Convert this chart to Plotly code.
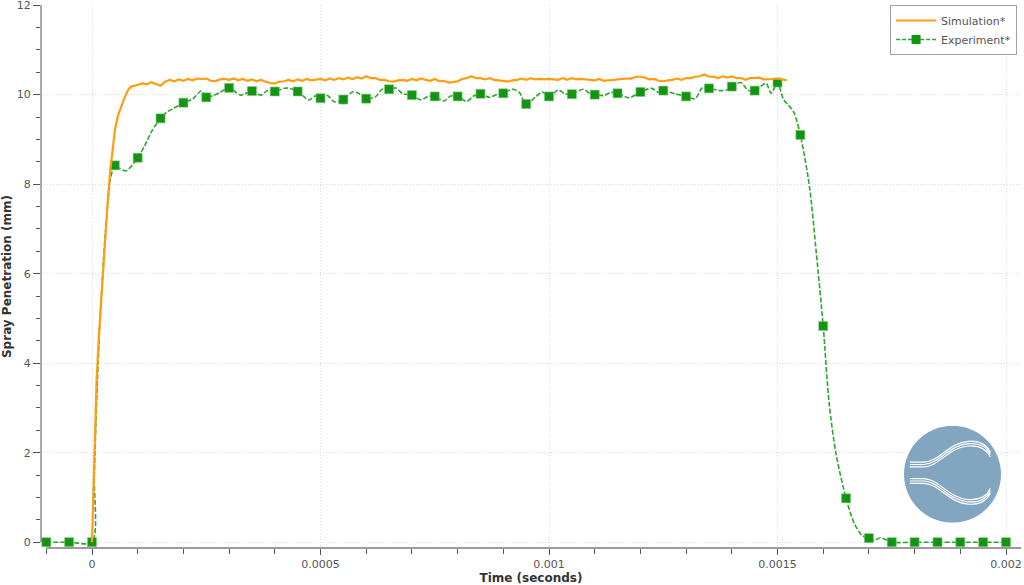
import base64
import numpy as np
import plotly.graph_objects as go

# ---------------- data ----------------
# Simulation: rise (seconds, mm)
sim_t_rise = [0, 2e-6, 5e-6, 1e-5, 1.5e-5, 2e-5, 2.5e-5, 3e-5, 3.5e-5, 4e-5, 4.5e-5,
              5e-5, 5.7e-5, 6.5e-5, 7.2e-5, 8e-5, 8.6e-5, 9.3e-5]
sim_y_rise = [0, 0.8, 2.2, 3.6, 4.6, 5.4, 6.2, 7.0, 7.7, 8.3, 8.8,
              9.2, 9.54, 9.78, 9.95, 10.12, 10.18, 10.20]
# Simulation: plateau sampled every 10 microseconds from 0.0001 s to 0.00152 s
sim_t_plateau = list(np.round(np.arange(100, 1521, 10) * 1e-6, 8))
sim_y_plateau = [
    10.22, 10.25, 10.23, 10.28, 10.24, 10.20, 10.29, 10.33, 10.30, 10.34,
    10.31, 10.35, 10.32, 10.36, 10.35, 10.36, 10.31, 10.30, 10.34, 10.35,
    10.33, 10.36, 10.32, 10.35, 10.31, 10.34, 10.30, 10.33, 10.29, 10.26,
    10.25, 10.29, 10.30, 10.33, 10.30, 10.34, 10.31, 10.35, 10.32, 10.33,
    10.35, 10.32, 10.36, 10.33, 10.37, 10.34, 10.38, 10.35, 10.39, 10.36,
    10.41, 10.37, 10.37, 10.33, 10.33, 10.30, 10.29, 10.32, 10.33, 10.31,
    10.35, 10.32, 10.36, 10.33, 10.31, 10.35, 10.30, 10.31, 10.27, 10.28,
    10.30, 10.35, 10.37, 10.41, 10.37, 10.37, 10.34, 10.37, 10.33, 10.32,
    10.30, 10.29, 10.32, 10.33, 10.36, 10.33, 10.37, 10.34, 10.35, 10.34,
    10.35, 10.34, 10.33, 10.37, 10.33, 10.37, 10.34, 10.35, 10.34, 10.34,
    10.32, 10.35, 10.31, 10.32, 10.33, 10.35, 10.35, 10.36, 10.36, 10.40,
    10.40, 10.38, 10.34, 10.35, 10.31, 10.30, 10.32, 10.33, 10.36, 10.33,
    10.37, 10.37, 10.40, 10.41, 10.45, 10.40, 10.40, 10.37, 10.41, 10.38,
    10.41, 10.37, 10.37, 10.33, 10.37, 10.37, 10.38, 10.34, 10.34, 10.35,
    10.36, 10.34, 10.32,
]

# Experiment: marked samples every 50 microseconds
exp_marker_t = list(np.round(np.arange(-100, 2001, 50) * 1e-6, 8))
exp_marker_y = [
    0, 0, 0,
    8.42, 8.59, 9.47, 9.82, 9.94, 10.15, 10.08, 10.07, 10.07, 9.92,
    9.89, 9.91, 10.12, 9.99, 9.96, 9.96, 10.02, 10.03, 9.79, 9.96,
    10.01, 10.00, 10.03, 10.06, 10.09, 9.96, 10.14, 10.18, 10.09, 10.27,
    9.10, 4.83, 0.98, 0.09, 0, 0, 0, 0, 0, 0,
]
# Experiment: unmarked samples between markers (microseconds, mm)
exp_mid_us = [5, 10, 15, 20, 25, 30, 35, 40, 60, 75, 90, 115, 130, 165, 180, 220, 239,
              265, 280, 325, 370, 385, 425, 475, 488, 515, 530, 570, 585, 620, 635,
              665, 680, 720, 735, 770, 785, 820, 835, 870, 885, 920, 935, 970, 985,
              1020, 1035, 1075, 1090, 1120, 1135, 1175, 1190, 1225, 1240, 1275,
              1320, 1335, 1375, 1390, 1420, 1435, 1475, 1486, 1513, 1535, 1570, 1585,
              1613, 1628, 1668, 1685, 1712, 1725]
exp_mid_y = [1.5, 3.1, 4.4, 5.4, 6.3, 7.0, 7.6, 8.1, 8.35, 8.30, 8.45, 8.85, 9.17, 9.62, 9.70, 9.90, 10.08,
             9.98, 10.05, 9.99, 9.99, 10.10, 10.15, 9.88, 9.97, 9.98, 9.84, 10.06, 10.02, 9.95, 10.12,
             10.15, 10.02, 9.88, 9.96, 9.86, 9.97, 9.85, 9.97, 9.94, 10.00, 10.12, 10.05, 9.94, 10.06,
             10.10, 10.02, 10.12, 10.02, 9.98, 10.05, 9.93, 10.00, 10.14, 10.05, 10.02,
             9.91, 10.15, 10.09, 10.11, 10.27, 10.10, 10.25, 10.03, 9.90, 9.62, 7.94, 6.45,
             3.10, 1.98, 0.42, 0.15, 0.04, 0.10]

x_tick_vals = [0, 0.0005, 0.001, 0.0015, 0.002]
x_tick_text = ["0", "0.0005", "0.001", "0.0015", "0.002"]
y_tick_vals = [0, 2, 4, 6, 8, 10, 12]

# ---------------- styling ----------------
ORANGE = "#ff9c0f"
GREEN_LINE = "#2fa52f"
GREEN_MARK = "#139413"
FONT = "DejaVu Sans"
GRID = "#d9d9d9"

sim_t = sim_t_rise + sim_t_plateau
sim_y = sim_y_rise + sim_y_plateau

pairs = sorted(list(zip(exp_marker_t, exp_marker_y)) +
               [(u * 1e-6, v) for u, v in zip(exp_mid_us, exp_mid_y)])
exp_t = [p[0] for p in pairs]
exp_y = [p[1] for p in pairs]

fig = go.Figure()
fig.add_trace(go.Scatter(
    x=exp_t, y=exp_y, mode="lines", showlegend=False, hoverinfo="skip",
    line=dict(color=GREEN_LINE, width=1.6, dash="5px,2px", shape="spline", smoothing=0.8),
))
fig.add_trace(go.Scatter(
    x=exp_marker_t, y=exp_marker_y, mode="markers", showlegend=False,
    marker=dict(symbol="square", size=9, color=GREEN_MARK, line=dict(width=0.6, color="#7cc67c")),
))
fig.add_trace(go.Scatter(
    x=[None], y=[None], mode="lines+markers", name="Experiment*", legendrank=2,
    line=dict(color=GREEN_LINE, width=1.6, dash="4px,2px"),
    marker=dict(symbol="square", size=9, color=GREEN_MARK),
))
fig.add_trace(go.Scatter(
    x=sim_t, y=sim_y, mode="lines", name="Simulation*", legendrank=1,
    line=dict(color=ORANGE, width=2.2),
))

# logo
logo_svg = '''<svg xmlns="http://www.w3.org/2000/svg" viewBox="0 0 100 100" width="200" height="200">
<circle cx="50" cy="50" r="50" fill="#82a6c0"/>
<g fill="none" stroke="#ffffff" stroke-width="1.2">
<g id="top">
<path d="M6 37.6 L20 37.6 C36 37.6 46 17.6 66 16.1 C77 15.3 85 18.6 89 27.6"/>
<path d="M6 40 L20 40 C36 40 46 20 66 18.5 C77 17.7 85 21 89 30"/>
<path d="M6 42.4 L20 42.4 C36 42.4 46 22.4 66 20.9 C77 20.1 85 23.4 89 32.4"/>
</g>
<g transform="matrix(1 0 0 -1 0 97)">
<path d="M6 37.6 L20 37.6 C36 37.6 46 17.6 66 16.1 C77 15.3 85 18.6 89 27.6"/>
<path d="M6 40 L20 40 C36 40 46 20 66 18.5 C77 17.7 85 21 89 30"/>
<path d="M6 42.4 L20 42.4 C36 42.4 46 22.4 66 20.9 C77 20.1 85 23.4 89 32.4"/>
</g>
</g>
</svg>'''
logo_uri = "data:image/svg+xml;base64," + base64.b64encode(logo_svg.encode()).decode()

X_MIN, X_MAX = -0.0001116, 0.0020328
Y_MIN, Y_MAX = -0.13, 12.003

fig.update_layout(
    width=1024, height=585,
    margin=dict(l=41, r=3, t=5, b=37, autoexpand=False),
    paper_bgcolor="white", plot_bgcolor="white",
    font=dict(family=FONT, size=11, color="#555555"),
    legend=dict(
        x=0.996, xanchor="right", y=1.0, yanchor="top",
        bgcolor="white", bordercolor="#a0a0a0", borderwidth=1,
        font=dict(family=FONT, size=11, color="#555555"),
        itemwidth=40, tracegroupgap=0,
    ),
    xaxis=dict(
        range=[X_MIN, X_MAX], tickmode="array", tickvals=x_tick_vals, ticktext=x_tick_text,
        ticks="outside", ticklen=6, tickcolor="#555555", tickwidth=1,
        minor=dict(dtick=0.0001, tick0=0, ticks="outside", ticklen=5, tickcolor="#555555", showgrid=False),
        showgrid=True, gridcolor=GRID, griddash="1px,2px", gridwidth=1,
        zeroline=False, showline=False, ticklabeloverflow="allow",
        title=dict(text="<b>Time (seconds)</b>", font=dict(family=FONT, size=12, color="#333333"), standoff=4),
        tickfont=dict(family=FONT, size=11, color="#555555"),
        automargin=False,
    ),
    yaxis=dict(
        range=[Y_MIN, Y_MAX], tickmode="array", tickvals=y_tick_vals,
        ticks="outside", ticklen=7, tickcolor="#555555", tickwidth=1,
        minor=dict(dtick=0.5, tick0=0, ticks="outside", ticklen=4, tickcolor="#555555", showgrid=False),
        showgrid=True, gridcolor=GRID, griddash="1px,2px", gridwidth=1,
        zeroline=False, showline=False, ticklabeloverflow="allow",
        title=dict(text="<b>Spray Penetration (mm)</b>", font=dict(family=FONT, size=12, color="#333333"), standoff=6),
        tickfont=dict(family=FONT, size=11, color="#555555"),
        automargin=False,
    ),
    shapes=[
        dict(type="line", xref="paper", yref="y", x0=0, x1=0, y0=0, y1=Y_MAX,
             line=dict(color="#555555", width=1)),
        dict(type="line", xref="x", yref="paper", x0=-0.0001, x1=X_MAX, y0=0, y1=0,
             line=dict(color="#9a9a9a", width=2)),
    ],
    images=[dict(
        source=logo_uri, xref="paper", yref="paper",
        x=(904 - 41) / 980, y=(548 - 425.7) / 543, sizex=97 / 980, sizey=97 / 543,
        xanchor="left", yanchor="top", sizing="stretch", layer="above",
    )],
)

fig.write_html("out.html", config={"displayModeBar": False},
               post_script="document.body.style.margin='0';")
